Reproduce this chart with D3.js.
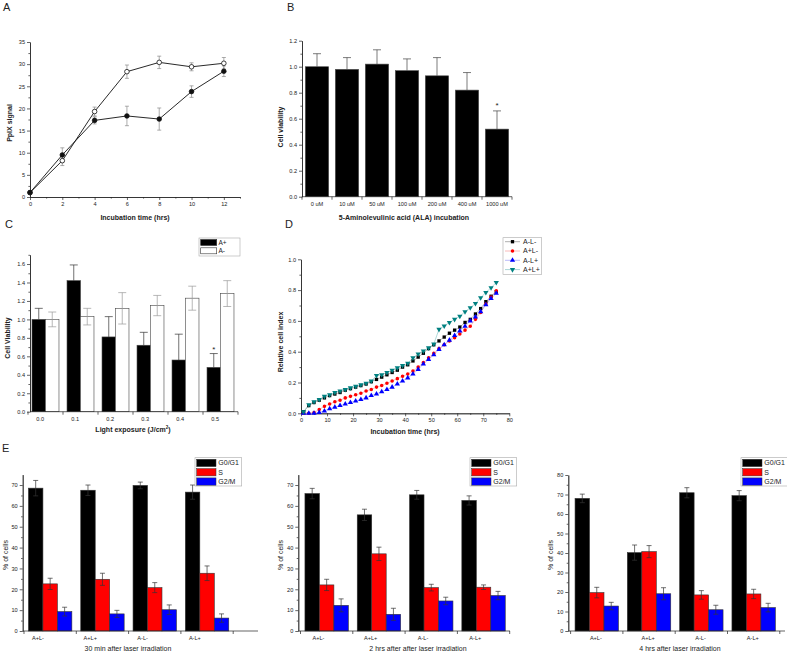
<!DOCTYPE html>
<html>
<head>
<meta charset="utf-8">
<script src="https://cdn.jsdelivr.net/npm/d3@7"></script>
<style>
	body { margin: 0; background: #fff; }
	svg { font-family: "Liberation Sans", Arial, sans-serif; }
</style>
</head>
<body>
<svg id="fig" width="787" height="655"></svg>
<script>
// ---- panel A : PpIX signal over incubation time
const timeA = [0, 2, 4, 6, 8, 10, 12];
const ppixOpen = [1.0, 8.2, 19.3, 28.3, 30.4, 29.4, 30.2];
const ppixOpenErr = [0.3, 1.1, 1.0, 1.5, 1.4, 0.9, 1.3];
const ppixFilled = [1.0, 9.5, 17.3, 18.3, 17.6, 23.8, 28.4];
const ppixFilledErr = [0.3, 1.6, 0.8, 2.2, 2.5, 1.3, 1.2];

// ---- panel B : viability vs ALA dose
const alaDoses = ["0 uM", "10 uM", "50 uM", "100 uM", "200 uM", "400 uM", "1000 uM"];
const alaViability = [1.0, 0.98, 1.02, 0.97, 0.93, 0.82, 0.52];
const alaErr = [0.1, 0.09, 0.11, 0.09, 0.14, 0.135, 0.14];

// ---- panel C : viability vs light exposure
const lightDoses = ["0.0", "0.1", "0.2", "0.3", "0.4", "0.5"];
const viabAplus = [1.0, 1.42, 0.81, 0.72, 0.56, 0.48];
const viabAplusErr = [0.12, 0.17, 0.22, 0.14, 0.28, 0.15];
const viabAminus = [1.0, 1.03, 1.12, 1.15, 1.23, 1.28];
const viabAminusErr = [0.08, 0.09, 0.17, 0.11, 0.13, 0.14];

// ---- panel D : relative cell index
const hoursD = [1, 3, 5, 7, 9, 11, 13, 15, 17, 19, 21, 23, 25, 27, 29, 31, 33, 35, 37, 39,
	41, 43, 45, 47, 49, 51, 53, 55, 57, 59, 61, 63, 65, 67, 69, 71, 73, 75];
const rciAmLm = [0.01, 0.05, 0.07, 0.085, 0.1, 0.115, 0.125, 0.135, 0.15, 0.16, 0.17, 0.18, 0.19,
	0.205, 0.22, 0.235, 0.25, 0.265, 0.28, 0.3, 0.315, 0.34, 0.365, 0.39, 0.42, 0.445, 0.47,
	0.495, 0.52, 0.54, 0.56, 0.59, 0.61, 0.645, 0.68, 0.725, 0.76, 0.79];
const rciApLm = [0.0, 0.0, 0.005, 0.025, 0.045, 0.06, 0.075, 0.085, 0.1, 0.11, 0.12, 0.13, 0.145,
	0.155, 0.17, 0.18, 0.195, 0.21, 0.225, 0.24, 0.255, 0.275, 0.3, 0.33, 0.36, 0.39, 0.42,
	0.445, 0.47, 0.49, 0.515, 0.54, 0.565, 0.61, 0.655, 0.71, 0.755, 0.795];
const rciAmLp = [0.0, 0.0, 0.0, 0.005, 0.015, 0.03, 0.04, 0.05, 0.06, 0.07, 0.08, 0.09, 0.1,
	0.115, 0.125, 0.14, 0.155, 0.17, 0.19, 0.21, 0.23, 0.255, 0.285, 0.32, 0.35, 0.38, 0.415,
	0.445, 0.475, 0.505, 0.535, 0.565, 0.6, 0.625, 0.66, 0.705, 0.745, 0.78];
const rciApLp = [0.01, 0.055, 0.075, 0.09, 0.11, 0.12, 0.135, 0.145, 0.155, 0.165, 0.175, 0.185,
	0.195, 0.21, 0.245, 0.25, 0.265, 0.28, 0.295, 0.31, 0.325, 0.36, 0.385, 0.405, 0.425, 0.45,
	0.545, 0.567, 0.59, 0.61, 0.63, 0.66, 0.685, 0.713, 0.75, 0.785, 0.815, 0.85];
const rciNames = ["A-L-", "A+L-", "A-L+", "A+L+"];

// ---- panel E : cell cycle phases
const groupsE = ["A+L-", "A+L+", "A-L-", "A-L+"];
const phases = ["G0/G1", "S", "G2/M"];
const e30G0 = [68.5, 67.5, 69.8, 66.6];
const e30G0Err = [3.7, 2.5, 1.6, 3.4];
const e30S = [22.6, 24.8, 20.8, 27.7];
const e30SErr = [2.7, 2.9, 2.4, 3.5];
const e30G2 = [9.3, 8.2, 10.2, 6.2];
const e30G2Err = [2.1, 1.7, 2.3, 2.0];
const e2hG0 = [65.9, 55.7, 65.3, 62.6];
const e2hG0Err = [2.5, 2.7, 2.1, 2.2];
const e2hS = [22.1, 37.0, 20.8, 21.0];
const e2hSErr = [2.7, 3.2, 1.6, 1.1];
const e2hG2 = [12.3, 8.0, 14.4, 17.0];
const e2hG2Err = [3.1, 2.9, 1.8, 2.0];
const e4hG0 = [68.0, 40.2, 70.9, 69.4];
const e4hG0Err = [2.2, 3.9, 2.6, 2.6];
const e4hS = [19.7, 40.7, 18.5, 19.0];
const e4hSErr = [2.7, 3.1, 2.2, 2.4];
const e4hG2 = [12.8, 19.1, 10.9, 12.0];
const e4hG2Err = [1.9, 3.1, 2.3, 2.2];

const svg = d3.select("#fig");
const AXIS = "#222";
const TICK_FS = 5.6;
const TITLE_FS = 7;

function styleAxis(g) {
	g.selectAll("path, line").attr("stroke", AXIS).attr("stroke-width", 0.7);
	g.selectAll("text").attr("font-size", TICK_FS).attr("fill", "#222");
}

function leftAxis(y, x0, ticks, minor, fmt) {
	svg.append("g")
		.attr("transform", `translate(${x0},0)`)
		.call(d3.axisLeft(y).tickValues(minor).tickSize(1.6).tickFormat("").tickSizeOuter(0))
		.call(styleAxis);
	svg.append("g")
		.attr("transform", `translate(${x0},0)`)
		.call(d3.axisLeft(y).tickValues(ticks).tickSize(3).tickPadding(2).tickFormat(fmt).tickSizeOuter(0))
		.call(styleAxis);
}

function bottomAxis(x, y0, ticks, minor, fmt) {
	svg.append("g")
		.attr("transform", `translate(0,${y0})`)
		.call(d3.axisBottom(x).tickValues(minor).tickSize(1.6).tickFormat("").tickSizeOuter(0))
		.call(styleAxis);
	svg.append("g")
		.attr("transform", `translate(0,${y0})`)
		.call(d3.axisBottom(x).tickValues(ticks).tickSize(3).tickPadding(2).tickFormat(fmt).tickSizeOuter(0))
		.call(styleAxis);
}

function title(txt, x, y, rotate, weight) {
	let t = svg.append("text")
		.attr("font-size", TITLE_FS)
		.attr("font-weight", weight || "bold")
		.attr("fill", "#222")
		.attr("text-anchor", "middle");
	if (rotate) {
		t.attr("transform", `translate(${x},${y}) rotate(-90)`).attr("dy", "0.35em");
	} else {
		t.attr("x", x).attr("y", y);
	}
	t.text(txt);
	return t;
}

function letter(txt, x, y) {
	svg.append("text").attr("x", x).attr("y", y)
		.attr("font-size", 11).attr("fill", "#222").text(txt);
}

function errBars(g, xs, vals, errs, y, mode, color, cap) {
	let eb = g.append("g").attr("stroke", color).attr("stroke-width", 0.7);
	vals.forEach((v, i) => {
		let lo = mode === "up" ? v : v - errs[i];
		let hi = v + errs[i];
		eb.append("line").attr("x1", xs[i]).attr("x2", xs[i]).attr("y1", y(lo)).attr("y2", y(hi));
		eb.append("line").attr("x1", xs[i] - cap / 2).attr("x2", xs[i] + cap / 2).attr("y1", y(hi)).attr("y2", y(hi));
		if (mode !== "up") {
			eb.append("line").attr("x1", xs[i] - cap / 2).attr("x2", xs[i] + cap / 2).attr("y1", y(lo)).attr("y2", y(lo));
		}
	});
}

// grouped bar chart used by panels B, C and E
function barPanel(cfg) {
	let x = d3.scaleBand().domain(cfg.cats).range(cfg.band)
		.paddingInner(cfg.padIn).paddingOuter(cfg.padOut);
	let y = d3.scaleLinear().domain(cfg.yDomain).range(cfg.yRange);
	let sub = d3.scaleBand().domain(d3.range(cfg.series.length)).range([0, x.bandwidth()]);
	let g = svg.append("g");

	cfg.series.forEach((s, k) => {
		g.append("g").selectAll("rect")
			.data(s.values)
			.join("rect")
			.attr("x", (d, i) => x(cfg.cats[i]) + sub(k))
			.attr("y", (d) => y(d))
			.attr("width", sub.bandwidth())
			.attr("height", (d) => y(0) - y(d))
			.attr("fill", s.fill)
			.attr("stroke", s.stroke)
			.attr("stroke-width", 0.6);
	});
	cfg.series.forEach((s, k) => {
		let xs = cfg.cats.map((c) => x(c) + sub(k) + sub.bandwidth() / 2);
		errBars(g, xs, s.values, s.errs, y, s.mode, s.errColor, cfg.cap);
	});

	leftAxis(y, cfg.yAxisX, cfg.yTicks, cfg.yMinor, d3.format(cfg.fmt));

	// x axis: line with ticks between the groups, labels under the groups
	let y0 = y(0);
	let ax = svg.append("g");
	ax.append("line").attr("x1", cfg.yAxisX).attr("x2", cfg.xEnd).attr("y1", y0).attr("y2", y0);
	let gap = x.step() * cfg.padIn;
	let seps = cfg.cats.map((c) => x(c) - gap / 2).concat([x(cfg.cats[cfg.cats.length - 1]) + x.bandwidth() + gap / 2]);
	ax.selectAll("line.sep")
		.data(seps)
		.join("line")
		.attr("class", "sep")
		.attr("x1", (d) => d).attr("x2", (d) => d)
		.attr("y1", y0).attr("y2", y0 + 3);
	ax.selectAll("line").attr("stroke", AXIS).attr("stroke-width", 0.7);
	ax.selectAll("text")
		.data(cfg.cats)
		.join("text")
		.attr("x", (d) => x(d) + x.bandwidth() * cfg.labelFrac)
		.attr("y", y0 + 9)
		.attr("text-anchor", "middle")
		.attr("font-size", TICK_FS)
		.attr("fill", "#222")
		.text((d) => d);
	return { x: x, y: y, sub: sub };
}

// ================= A
(function () {
	let x = d3.scaleLinear().domain([0, 13]).range([30, 240]);
	let y = d3.scaleLinear().domain([0, 35]).range([197, 42]);
	leftAxis(y, 30, d3.range(0, 36, 5), d3.range(2.5, 35, 5), d3.format("d"));
	bottomAxis(x, 197, d3.range(0, 13, 2), d3.range(1, 14, 2), d3.format("d"));

	let g = svg.append("g");
	let xs = timeA.map((d) => x(d));
	errBars(g, xs, ppixOpen, ppixOpenErr, y, "both", "#888", 4);
	errBars(g, xs, ppixFilled, ppixFilledErr, y, "both", "#888", 4);

	let line = d3.line().x((d, i) => x(timeA[i])).y((d) => y(d));
	[ppixOpen, ppixFilled].forEach((vals, k) => {
		g.append("path").datum(vals).attr("d", line)
			.attr("fill", "none").attr("stroke", "#111").attr("stroke-width", 0.9);
		g.append("g").selectAll("circle")
			.data(vals)
			.join("circle")
			.attr("cx", (d, i) => x(timeA[i]))
			.attr("cy", (d) => y(d))
			.attr("r", 2.3)
			.attr("fill", k === 0 ? "#fff" : "#111")
			.attr("stroke", "#111")
			.attr("stroke-width", 0.8);
	});
	title("Incubation time (hrs)", 135, 220);
	title("PpIX signal", 10, 123, true);
	letter("A", 3, 10.5);
})();

// ================= B
(function () {
	let p = barPanel({
		cats: alaDoses, band: [302, 512], padIn: 0.22, padOut: 0.11,
		series: [{ values: alaViability, errs: alaErr, fill: "#000", stroke: "#555", mode: "up", errColor: "#444" }],
		yDomain: [0, 1.2], yRange: [196.7, 40.7],
		yTicks: d3.range(0, 1.21, 0.2), yMinor: d3.range(0.1, 1.2, 0.2), fmt: ".1f",
		yAxisX: 302, xEnd: 512, labelFrac: 0.5, cap: 8
	});
	let last = alaDoses.length - 1;
	svg.append("text")
		.attr("x", p.x(alaDoses[last]) + p.x.bandwidth() / 2)
		.attr("y", p.y(alaViability[last] + alaErr[last]) - 2.5)
		.attr("text-anchor", "middle").attr("font-size", 8).attr("fill", "#222").text("*");
	title("5-Aminolevulinic acid (ALA) incubation", 404, 220);
	title("Cell viability", 281, 127, true);
	letter("B", 287, 10.5);
})();

// ================= C
(function () {
	let p = barPanel({
		cats: lightDoses, band: [28, 238], padIn: 0.23, padOut: 0.115,
		series: [
			{ values: viabAplus, errs: viabAplusErr, fill: "#000", stroke: "#444", mode: "up", errColor: "#333" },
			{ values: viabAminus, errs: viabAminusErr, fill: "#fff", stroke: "#444", mode: "both", errColor: "#999" }
		],
		yDomain: [0, 1.7], yRange: [411.7, 254.8],
		yTicks: d3.range(0, 1.61, 0.2), yMinor: d3.range(0.1, 1.71, 0.2), fmt: ".1f",
		yAxisX: 30, xEnd: 238, labelFrac: 0.3, cap: 8
	});
	let last = lightDoses.length - 1;
	svg.append("text")
		.attr("x", p.x(lightDoses[last]) + p.sub.bandwidth() / 2)
		.attr("y", p.y(viabAplus[last] + viabAplusErr[last]) - 1.5)
		.attr("text-anchor", "middle").attr("font-size", 8).attr("fill", "#222").text("*");

	let t = title("", 133, 432);
	t.text("Light exposure (J/cm");
	t.append("tspan").attr("dy", -3).attr("font-size", 4.5).text("2");
	t.append("tspan").attr("dy", 3).text(")");
	title("Cell Viability", 8, 338, true);
	letter("C", 5, 227.5);

	let lg = svg.append("g").attr("transform", "translate(199,238)");
	lg.append("rect").attr("width", 41).attr("height", 18)
		.attr("fill", "#fff").attr("stroke", "#aaa").attr("stroke-width", 0.6);
	["A+", "A-"].forEach((name, i) => {
		lg.append("rect").attr("x", 1.7).attr("y", 1.5 + i * 8.3).attr("width", 16).attr("height", 6)
			.attr("fill", i === 0 ? "#000" : "#fff").attr("stroke", "#333").attr("stroke-width", 0.6);
		lg.append("text").attr("x", 19.5).attr("y", 6.9 + i * 8.3)
			.attr("font-size", 6.5).attr("fill", "#222").text(name);
	});
})();

// ================= D
(function () {
	let x = d3.scaleLinear().domain([0, 80]).range([301, 509.3]);
	let y = d3.scaleLinear().domain([0, 1.0]).range([413.3, 259.3]);
	leftAxis(y, 301, d3.range(0, 1.01, 0.2), d3.range(0.1, 1.0, 0.2), d3.format(".1f"));
	bottomAxis(x, 413.3, d3.range(0, 81, 10), d3.range(5, 80, 10), d3.format("d"));

	let series = [
		{ vals: rciAmLm, color: "#000", line: "#999", sym: d3.symbolSquare, size: 11, rot: 0 },
		{ vals: rciApLm, color: "#f00", line: "#f7a8a8", sym: d3.symbolCircle, size: 10, rot: 0 },
		{ vals: rciAmLp, color: "#00f", line: "#a8a8f7", sym: d3.symbolTriangle, size: 12, rot: 0 },
		{ vals: rciApLp, color: "#008080", line: "#8fcaca", sym: d3.symbolTriangle, size: 12, rot: 180 }
	];
	let line = d3.line().x((d, i) => x(hoursD[i])).y((d) => y(d));
	let g = svg.append("g");
	series.forEach((s) => {
		g.append("path").datum(s.vals).attr("d", line)
			.attr("fill", "none").attr("stroke", s.line).attr("stroke-width", 0.7);
	});
	series.forEach((s) => {
		g.append("g").selectAll("path")
			.data(s.vals)
			.join("path")
			.attr("d", d3.symbol().type(s.sym).size(s.size))
			.attr("transform", (d, i) => `translate(${x(hoursD[i])},${y(d)}) rotate(${s.rot})`)
			.attr("fill", s.color);
	});
	title("Incubation time (hrs)", 405, 434);
	title("Relative cell index", 281, 342, true);
	letter("D", 285, 227.5);

	let lg = svg.append("g").attr("transform", "translate(503,237.7)");
	lg.append("rect").attr("width", 38.7).attr("height", 36.6)
		.attr("fill", "#fff").attr("stroke", "#aaa").attr("stroke-width", 0.6);
	series.forEach((s, i) => {
		let cy = 4 + i * 9.3;
		lg.append("line").attr("x1", 2).attr("x2", 17).attr("y1", cy).attr("y2", cy)
			.attr("stroke", s.line).attr("stroke-width", 0.8);
		lg.append("path").attr("d", d3.symbol().type(s.sym).size(s.size))
			.attr("transform", `translate(9.5,${cy}) rotate(${s.rot})`).attr("fill", s.color);
		lg.append("text").attr("x", 20).attr("y", cy + 2.4)
			.attr("font-size", 7).attr("fill", "#222").text(rciNames[i]);
	});
})();

// ================= E
function cyclePanel(cfg) {
	let colors = ["#000", "#f00", "#00f"];
	barPanel({
		cats: groupsE, band: cfg.band, padIn: 0.17, padOut: 0.085,
		series: cfg.vals.map((v, k) => ({
			values: v, errs: cfg.errs[k], fill: colors[k], stroke: "#333", mode: "both", errColor: "#333"
		})),
		yDomain: [0, cfg.yMax], yRange: [631, cfg.yTop],
		yTicks: d3.range(0, cfg.yMax + 1, 10), yMinor: d3.range(5, cfg.yMax, 10), fmt: "d",
		yAxisX: cfg.yAxisX, xEnd: cfg.xEnd, labelFrac: cfg.labelFrac, cap: 5
	});
	title(cfg.xTitle, cfg.xTitleX, 651, false, "normal");
	title("% of cells", cfg.yTitleX, 555, true, "normal");

	let lg = svg.append("g").attr("transform", `translate(${cfg.legend[0]},${cfg.legend[1]})`);
	lg.append("rect").attr("width", 46.7).attr("height", 28.3)
		.attr("fill", "#fff").attr("stroke", "#aaa").attr("stroke-width", 0.6);
	phases.forEach((name, i) => {
		lg.append("rect").attr("x", 1.7).attr("y", 1.6 + i * 9.3).attr("width", 19.3).attr("height", 7.3)
			.attr("fill", colors[i]).attr("stroke", "#333").attr("stroke-width", 0.5);
		lg.append("text").attr("x", 23.3).attr("y", 7.8 + i * 9.3)
			.attr("font-size", 7).attr("fill", "#222").text(name);
	});
}

cyclePanel({
	vals: [e30G0, e30S, e30G2], errs: [e30G0Err, e30SErr, e30G2Err],
	band: [24, 233.2], yMax: 75, yTop: 474.6, yAxisX: 22.7, xEnd: 258, labelFrac: 0.22,
	xTitle: "30 min after laser irradiation", xTitleX: 128, yTitleX: 6, legend: [195, 457.7]
});
cyclePanel({
	vals: [e2hG0, e2hS, e2hG2], errs: [e2hG0Err, e2hSErr, e2hG2Err],
	band: [300.5, 509.7], yMax: 75, yTop: 474.6, yAxisX: 298.3, xEnd: 510, labelFrac: 0.31,
	xTitle: "2 hrs after after laser irradiation", xTitleX: 418, yTitleX: 281, legend: [470, 457.7]
});
cyclePanel({
	vals: [e4hG0, e4hS, e4hG2], errs: [e4hG0Err, e4hSErr, e4hG2Err],
	band: [570.6, 779.8], yMax: 80, yTop: 475, yAxisX: 568.3, xEnd: 785, labelFrac: 0.48,
	xTitle: "4 hrs after laser irradiation", xTitleX: 680, yTitleX: 551, legend: [741, 457.7]
});
letter("E", 2, 451.5);
</script>
</body>
</html>
